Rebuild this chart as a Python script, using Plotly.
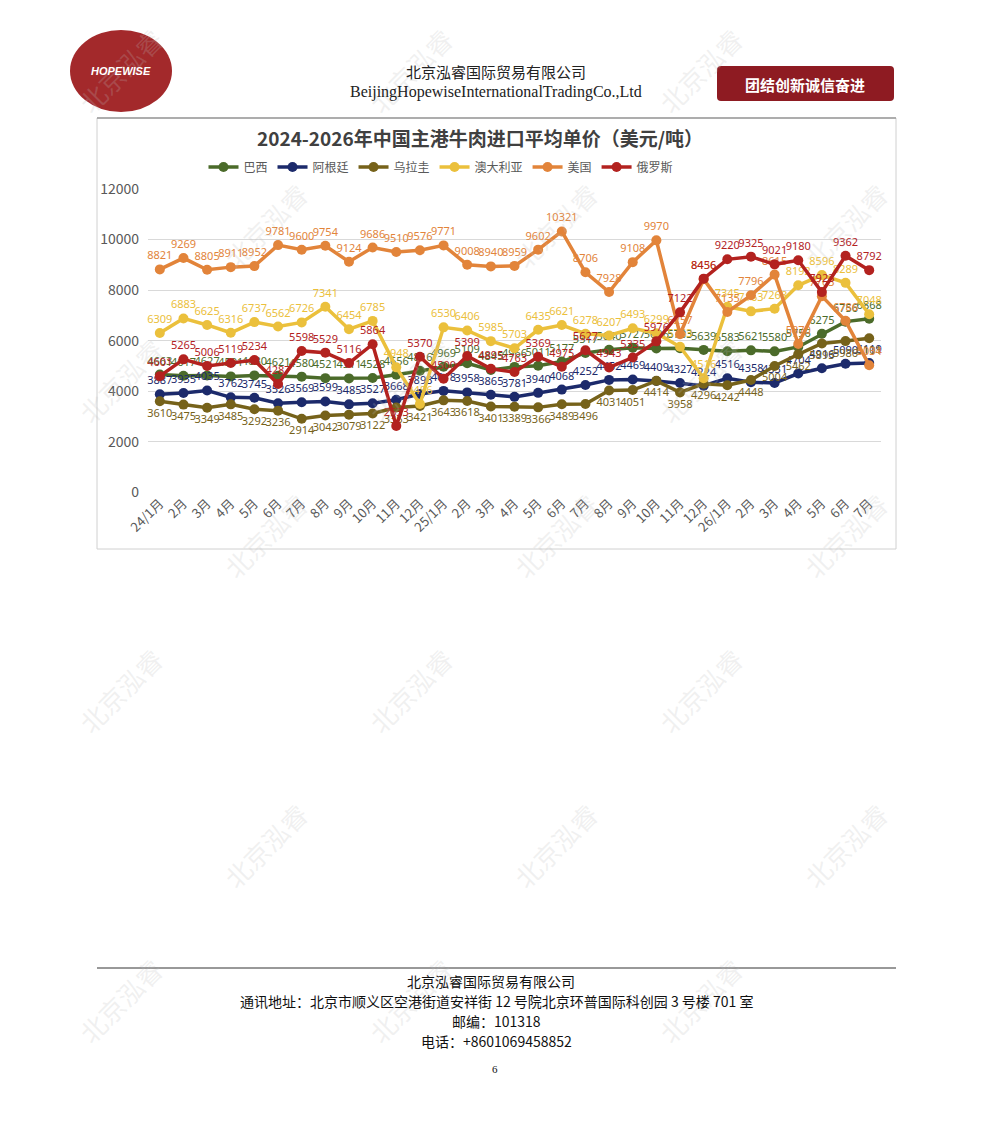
import plotly.graph_objects as go

# page is shown with the default 8px body margin, so the figure is 8px smaller
W, H = 975, 1125
OFF = 8

months = ["24/1月", "2月", "3月", "4月", "5月", "6月", "7月", "8月", "9月", "10月", "11月", "12月",
          "25/1月", "2月", "3月", "4月", "5月", "6月", "7月", "8月", "9月", "10月", "11月", "12月",
          "26/1月", "2月", "3月", "4月", "5月", "6月", "7月"]

brazil = [4663, 4617, 4627, 4591, 4630, 4621, 4580, 4521, 4511, 4528, 4656, 4816,
          4969, 5109, 4845, 4966, 5011, 5177, 5517, 5640, 5727, 5696, 5703, 5639,
          5583, 5621, 5580, 5756, 6275, 6756, 6868]
argentina = [3887, 3935, 4035, 3762, 3745, 3526, 3569, 3599, 3485, 3527, 3668, 3893,
             4018, 3958, 3865, 3781, 3940, 4068, 4252, 4452, 4469, 4409, 4327, 4224,
             4516, 4358, 4331, 4704, 4916, 5090, 5119]
uruguay = [3610, 3475, 3349, 3485, 3292, 3236, 2914, 3042, 3079, 3122, 3363, 3421,
           3643, 3618, 3401, 3389, 3366, 3489, 3496, 4031, 4051, 4414, 3958, 4296,
           4242, 4448, 5004, 5462, 5893, 5986, 6101]
australia = [6309, 6883, 6625, 6316, 6737, 6562, 6726, 7341, 6454, 6785, 4948, 3496,
             6530, 6406, 5985, 5703, 6435, 6621, 6278, 6207, 6493, 6299, 5763, 4516,
             7345, 7163, 7268, 8192, 8596, 8289, 7048]
usa = [8821, 9269, 8805, 8911, 8952, 9781, 9600, 9754, 9124, 9686, 9510, 9576,
       9771, 9008, 8940, 8959, 9602, 10321, 8706, 7928, 9108, 9970, 6257, 8436,
       7135, 7796, 8615, 5870, 7763, 6786, 5034]
russia = [4601, 5265, 5006, 5119, 5234, 4287, 5598, 5529, 5116, 5864, 2633, 5370,
          4500, 5399, 4895, 4763, 5369, 4975, 5627, 4943, 5335, 5976, 7122, 8456,
          9220, 9325, 9021, 9180, 7923, 9362, 8792]

series = [
    ("巴西", brazil, "#4B6B2A", "top center"),
    ("阿根廷", argentina, "#1C2A6B", "top center"),
    ("乌拉圭", uruguay, "#76621A", "bottom center"),
    ("澳大利亚", australia, "#EBC03C", "top center"),
    ("美国", usa, "#E2843A", "top center"),
    ("俄罗斯", russia, "#B3221F", "top center"),
]

x_idx = list(range(len(months)))


def px(x):
    return (x - OFF) / W


def py(y):
    return 1 - (y - OFF) / H


fig = go.Figure()
for name, vals, col, pos in series:
    fig.add_trace(go.Scatter(
        x=x_idx, y=vals, name=name, mode="lines+markers+text",
        text=[str(v) for v in vals], textposition=pos,
        textfont=dict(size=11, color=col, family="Noto Sans, Open Sans, sans-serif"),
        line=dict(color=col, width=3.5),
        marker=dict(color=col, size=10),
        cliponaxis=False,
    ))

fig.update_layout(
    width=W, height=H,
    margin=dict(l=0, r=0, t=0, b=0, pad=0, autoexpand=False),
    paper_bgcolor="white", plot_bgcolor="white",
    font=dict(family="Noto Sans CJK SC, Noto Sans, sans-serif", color="#595959"),
    showlegend=True,
    legend=dict(orientation="h", x=px(441), y=py(167), xanchor="center", yanchor="middle",
                font=dict(size=12, color="#595959"), itemwidth=30, tracegroupgap=0,
                bgcolor="rgba(0,0,0,0)"),
    xaxis=dict(domain=[px(148), px(881)], range=[-0.5, 30.5], automargin=False,
               tickmode="array", tickvals=x_idx, ticktext=months, tickangle=-45,
               tickfont=dict(size=13, color="#595959"), showgrid=False, zeroline=False,
               showline=False, ticks=""),
    yaxis=dict(domain=[py(492.5), py(189)], range=[0, 12000], dtick=2000, tickformat="d",
               automargin=False,
               tickfont=dict(size=14, color="#595959"), gridcolor="#D9D9D9", gridwidth=1,
               zeroline=False, showline=False, ticks="", ticklabelstandoff=8),
)

shapes = []
# chart frame
shapes.append(dict(type="rect", xref="paper", yref="paper", x0=px(97), x1=px(896), y0=py(549), y1=py(118),
                   line=dict(color="#D0D0D0", width=1), layer="below"))
shapes.append(dict(type="line", xref="paper", yref="paper", x0=px(97), x1=px(896), y0=py(118), y1=py(118),
                   line=dict(color="#9A9A9A", width=1.5)))
# footer line
shapes.append(dict(type="line", xref="paper", yref="paper", x0=px(97), x1=px(896), y0=py(968), y1=py(968),
                   line=dict(color="#333333", width=1)))
# logo circle
shapes.append(dict(type="circle", xref="paper", yref="paper", x0=px(70), x1=px(172), y0=py(112), y1=py(30),
                   fillcolor="#A3292B", line=dict(width=0)))
# motto button
shapes.append(dict(type="path", xref="paper", yref="paper",
                   path="M {0},{1} L {2},{1} Q {3},{1} {3},{4} L {3},{5} Q {3},{6} {2},{6} "
                        "L {0},{6} Q {7},{6} {7},{5} L {7},{4} Q {7},{1} {0},{1} Z".format(
                            px(721), py(66), px(890), px(894), py(70), py(97), py(101), px(717)),
                   fillcolor="#8E1B22", line=dict(width=0)))

ann = []
# watermark
for r in range(7):
    for c in range(4):
        wx = 120 + c * 290 + (r % 2) * 145
        wy = 70 + r * 155
        if wx > W - 40:
            continue
        ann.append(dict(x=px(wx), y=py(wy), text="北京泓睿", textangle=-45,
                        font=dict(size=26, color="rgba(190,190,190,0.22)", family="Noto Sans CJK SC")))

ann += [
    dict(x=px(480), y=py(138), text="<b>2024-2026年中国主港牛肉进口平均单价（美元/吨）</b>",
         font=dict(size=19, color="#404040", family="Noto Sans CJK SC")),
    dict(x=px(121), y=py(71), text="<b><i>HOPEWISE</i></b>",
         font=dict(size=11, color="white", family="Liberation Sans")),
    dict(x=px(496), y=py(71), text="北京泓睿国际贸易有限公司",
         font=dict(size=15, color="#222222", family="Noto Sans CJK SC")),
    dict(x=px(496), y=py(92), text="BeijingHopewiseInternationalTradingCo.,Ltd",
         font=dict(size=16, color="#222222", family="Liberation Serif")),
    dict(x=px(805), y=py(84), text="<b>团结创新诚信奋进</b>",
         font=dict(size=15, color="white", family="Noto Sans CJK SC")),
    dict(x=px(491), y=py(981), text="北京泓睿国际贸易有限公司",
         font=dict(size=14, color="#111111", family="Noto Sans CJK SC")),
    dict(x=px(496), y=py(1001), text="通讯地址：北京市顺义区空港街道安祥街 12 号院北京环普国际科创园 3 号楼 701 室",
         font=dict(size=14, color="#111111", family="Noto Sans CJK SC")),
    dict(x=px(496), y=py(1021), text="邮编：101318",
         font=dict(size=14, color="#111111", family="Noto Sans CJK SC")),
    dict(x=px(496), y=py(1041), text="电话：+8601069458852",
         font=dict(size=14, color="#111111", family="Noto Sans CJK SC")),
    dict(x=px(495), y=py(1069), text="6",
         font=dict(size=11, color="#111111", family="Liberation Serif")),
]
for a in ann:
    a.update(xref="paper", yref="paper", showarrow=False, xanchor="center", yanchor="middle")

fig.update_layout(shapes=shapes, annotations=ann)

fig.write_html("out.html")
